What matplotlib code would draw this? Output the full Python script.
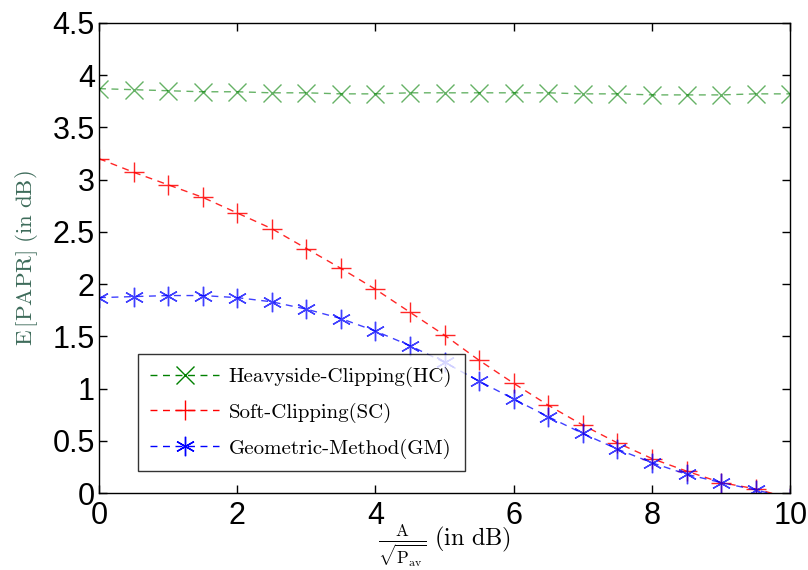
import numpy as np
import matplotlib
matplotlib.use('Agg')
import matplotlib.pyplot as plt

plt.rcParams['mathtext.fontset'] = 'cm'

# Data
x = np.arange(0, 10.5, 0.5)
hc = [3.87, 3.86, 3.85, 3.84, 3.84, 3.83, 3.83, 3.82, 3.82, 3.83, 3.83,
      3.83, 3.83, 3.83, 3.82, 3.82, 3.81, 3.81, 3.81, 3.82, 3.82]
sc = [3.20, 3.07, 2.95, 2.83, 2.68, 2.53, 2.34, 2.15, 1.95, 1.73, 1.51,
      1.27, 1.05, 0.84, 0.65, 0.48, 0.33, 0.21, 0.10, 0.04, -0.05]
gm = [1.87, 1.88, 1.89, 1.89, 1.87, 1.83, 1.76, 1.67, 1.55, 1.41, 1.25,
      1.07, 0.90, 0.73, 0.57, 0.42, 0.29, 0.18, 0.10, 0.03, -0.05]
labels = ['Heavyside-Clipping(HC)', 'Soft-Clipping(SC)', 'Geometric-Method(GM)']
xticks = [0, 2, 4, 6, 8, 10]
yticks = [0, 0.5, 1, 1.5, 2, 2.5, 3, 3.5, 4, 4.5]
yticklabels = ['0', '0.5', '1', '1.5', '2', '2.5', '3', '3.5', '4', '4.5']

fig = plt.figure(figsize=(8.08, 5.70), dpi=100)
ax = fig.add_axes([0.1225, 0.135, 0.8555, 0.825])

dash = (0, (5, 4))
ax.plot(x, hc, color='green', ls=dash, lw=1.0, marker='x', ms=13, mew=1.0,
        alpha=0.6, label=labels[0])
ax.plot(x, sc, color='red', ls=dash, lw=1.0, marker='+', ms=15, mew=1.0,
        alpha=0.85, label=labels[1])
ax.plot(x, gm, color='blue', ls=dash, lw=1.0, marker=(6, 2, 0), ms=14, mew=1.0,
        alpha=0.75, label=labels[2])

ax.set_xlim(0, 10)
ax.set_ylim(0, 4.5)
ax.set_xticks(xticks)
ax.set_yticks(yticks)
ax.set_xticklabels([str(t) for t in xticks], family='Liberation Sans', fontsize=22)
ax.set_yticklabels(yticklabels, family='Liberation Sans', fontsize=22)
ax.tick_params(direction='in', top=True, right=True, length=6, width=1.0)
ax.tick_params(axis='y', pad=3)
ax.tick_params(axis='x', pad=6)
for s in ax.spines.values():
    s.set_linewidth(1.0)

ax.set_ylabel(r'$\mathrm{E\,[PAPR]\ (in\ dB)}$', fontsize=16.5, color='#3d6b5a')
ax.yaxis.set_label_coords(-0.085, 0.5)
ax.set_xlabel(r'$\frac{\mathrm{A}}{\sqrt{\mathrm{P_{av}}}}\ \mathrm{(in\ dB)}$', fontsize=17.5)
ax.xaxis.label.set_va('center')
ax.xaxis.set_label_coords(0.5, -0.113)

leg = ax.legend(loc='lower left', bbox_to_anchor=(0.0564, 0.0468), borderaxespad=0,
                prop={'family': 'cmr10', 'size': 15}, frameon=True, fancybox=False,
                edgecolor='black', handlelength=3.3, handletextpad=0.45,
                borderpad=0.6, labelspacing=0.75)
leg.get_frame().set_linewidth(1.0)
for lh in leg.legend_handles:
    lh.set_alpha(1.0)

fig.savefig('out.png', dpi=100)
